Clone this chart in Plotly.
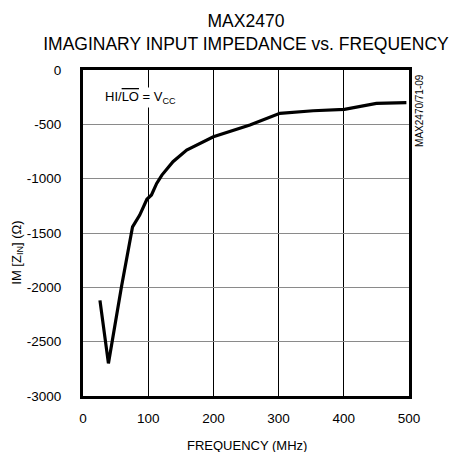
import plotly.graph_objects as go

freq_mhz = [26, 39, 59, 76, 87, 98, 105, 113, 121, 138, 159, 200, 256, 302, 353, 401, 450, 496]
im_zin = [-2120, -2700, -1995, -1443, -1335, -1190, -1150, -1044, -967, -844, -737, -614, -506, -399, -375, -362, -307, -301]

x_ticks = [0, 100, 200, 300, 400, 500]
y_ticks = [0, -500, -1000, -1500, -2000, -2500, -3000]

FONT = "Liberation Sans, Arial, sans-serif"

fig = go.Figure()
fig.add_trace(go.Scatter(x=freq_mhz, y=im_zin, mode="lines",
                         line=dict(color="black", width=3.2), showlegend=False))

fig.update_layout(
    width=458, height=452,
    margin=dict(l=83, r=49, t=70, b=56),
    paper_bgcolor="white", plot_bgcolor="white",
    font=dict(family=FONT, size=13, color="black"),
    title=dict(text="MAX2470<br>IMAGINARY INPUT IMPEDANCE vs. FREQUENCY",
               x=0.537, xanchor="center", y=0.94, yanchor="top",
               font=dict(family=FONT, size=17.5, color="black")),
)
fig.update_xaxes(range=[0, 500], tickvals=x_ticks, ticktext=[str(v) for v in x_ticks],
                 showgrid=True, gridcolor="black", gridwidth=1,
                 showline=True, linecolor="black", linewidth=3, mirror=True,
                 ticks="", ticklabelstandoff=8, zeroline=False,
                 tickfont=dict(size=13.5))
fig.update_yaxes(range=[-3000, 0], tickvals=y_ticks, ticktext=[str(v) for v in y_ticks],
                 showgrid=True, gridcolor="#8a8a8a", gridwidth=1,
                 showline=True, linecolor="black", linewidth=3, mirror=True,
                 ticks="", ticklabelstandoff=16, zeroline=False,
                 tickfont=dict(size=13.5))

fig.add_annotation(text="FREQUENCY (MHz)", xref="paper", yref="paper",
                   x=0.503, y=-0.152, xanchor="center", yanchor="middle",
                   showarrow=False, font=dict(size=13))
fig.add_annotation(text="IM [Z<sub>IN</sub>] (Ω)", xref="paper", yref="paper",
                   x=-0.202, y=0.44, xanchor="center", yanchor="middle",
                   textangle=-90, showarrow=False, font=dict(size=13))
fig.add_annotation(text="HI/<span style='text-decoration:overline'>LO</span> = V<sub>CC</sub>",
                   xref="x", yref="y", x=31, y=-249, xanchor="left", yanchor="middle",
                   showarrow=False, font=dict(size=13), bgcolor="white")
fig.add_annotation(text="MAX2470/71-09", xref="paper", yref="paper",
                   x=1.03, y=0.995, xanchor="center", yanchor="top",
                   textangle=-90, showarrow=False, font=dict(size=10))

fig.write_html("out.html", config={"displayModeBar": False},
               post_script="document.body.style.margin='0';document.body.style.overflow='hidden';")
